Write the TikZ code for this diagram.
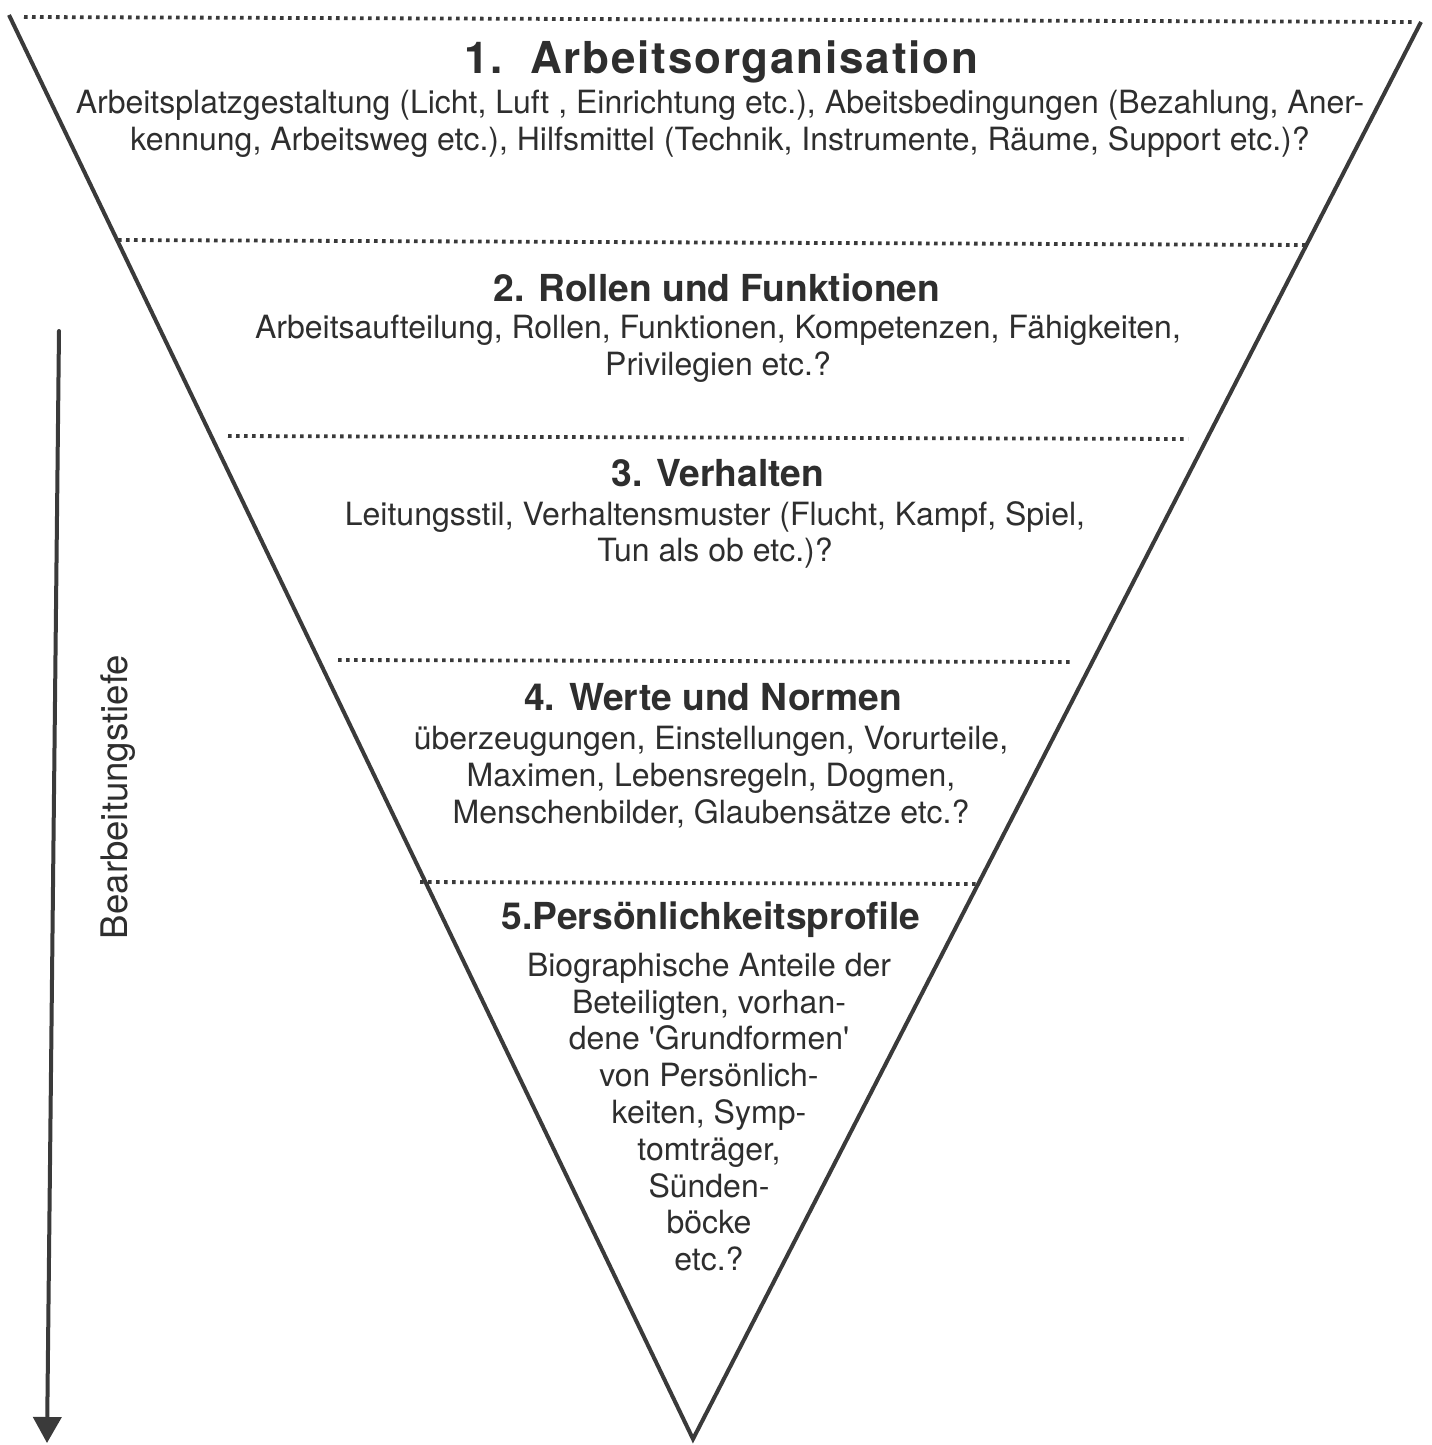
\documentclass[tikz,border=0pt]{standalone}
\usepackage{fontspec}
\setmainfont{TeX Gyre Heros}
\usetikzlibrary{arrows.meta}
\definecolor{ink}{HTML}{2E2E2E}
\definecolor{edge}{HTML}{3A3A3A}
\tikzset{
  funnel/.style={draw=edge, line width=2pt, line join=miter},
  sep/.style={draw=edge, line width=1.9pt, dash pattern=on 1.8pt off 2.2pt},
  ttl/.style={text=ink, font=\fontsize{18.6}{22}\selectfont\bfseries, inner sep=0pt},
  ttlbig/.style={text=ink, font=\fontsize{22}{26}\selectfont\bfseries\addfontfeature{LetterSpace=4}, inner sep=0pt},
  body/.style={text=ink, font=\fontsize{16}{18.4}\selectfont, align=center, inner sep=0pt},
  depth/.style={draw=edge, line width=2pt, line cap=round, -{Triangle[length=13pt,width=14pt]}},
  side/.style={text=ink, font=\fontsize{18.3}{22}\selectfont, rotate=90, inner sep=0pt}
}
\begin{document}
\begin{tikzpicture}[x=0.5pt,y=-0.5pt]
\useasboundingbox[fill=white] (0,0) rectangle (1431,1445);
% triangle
\coordinate (TL) at (9,15);
\coordinate (TR) at (1421,22);
\coordinate (AP) at (693,1439);
\draw[funnel] (TL) -- (AP) -- (TR);
% separators
\coordinate (a1) at (24,17); \coordinate (b1) at (1412,22);
\coordinate (a2) at (118,240); \coordinate (b2) at (1306,245);
\coordinate (a3) at (228,436); \coordinate (b3) at (1188,439);
\coordinate (a4) at (338,660); \coordinate (b4) at (1072,662);
\coordinate (a5) at (420,882); \coordinate (b5) at (978,884);
\draw[sep] (a1) -- (b1);
\draw[sep] (a2) -- (b2);
\draw[sep] (a3) -- (b3);
\draw[sep] (a4) -- (b4);
\draw[sep] (a5) -- (b5);
% texts
\node[ttlbig] (t1) at (721,62) {1.\ \ Arbeitsorganisation};
\node[body] (b1t) at (720,124) {Arbeitsplatzgestaltung (Licht, Luft , Einrichtung etc.), Abeitsbedingungen (Bezahlung, Aner-\\kennung, Arbeitsweg etc.), Hilfsmittel (Technik, Instrumente, Räume, Support etc.)?};
\node[ttl] (t2) at (717,288) {2. Rollen und Funktionen};
\node[body] (b2t) at (718,349) {Arbeitsaufteilung, Rollen, Funktionen, Kompetenzen, Fähigkeiten,\\Privilegien etc.?};
\node[ttl] (t3) at (718,473) {3. Verhalten};
\node[body] (b3t) at (715,535) {Leitungsstil, Verhaltensmuster (Flucht, Kampf, Spiel,\\Tun als ob etc.)?};
\node[ttl] (t4) at (713,697) {4. Werte und Normen};
\node[body] (b4t) at (711,777) {überzeugungen, Einstellungen, Vorurteile,\\Maximen, Lebensregeln, Dogmen,\\Menschenbilder, Glaubensätze etc.?};
\node[ttl] (t5) at (711,920) {5.Persönlichkeitsprofile};
\node[body] (b5t) at (709,1112) {Biographische Anteile der\\Beteiligten, vorhan-\\dene \textquotesingle Grundformen\textquotesingle\\von Persönlich-\\keiten, Symp-\\tomträger,\\Sünden-\\böcke\\etc.?};
% depth arrow
\coordinate (ds) at (59,331);
\coordinate (de) at (47,1443);
\draw[depth] (ds) -- (de);
\node[side] (lbl) at (118,797) {Bearbeitungstiefe};
\end{tikzpicture}
\end{document}
